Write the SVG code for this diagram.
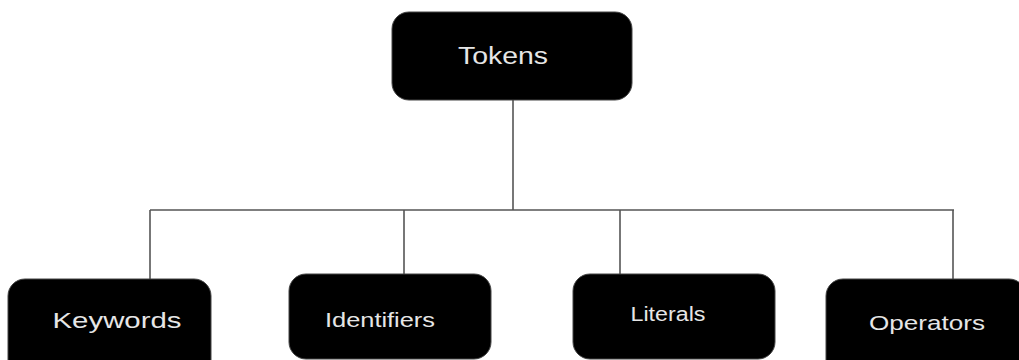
<svg xmlns="http://www.w3.org/2000/svg" width="1019" height="360" viewBox="0 0 1019 360">
<style>
.box{fill:#000;stroke:#444;stroke-width:1}
.lbl{fill:#e6e6e6;font-family:"Liberation Sans",Arial,sans-serif;text-anchor:middle}
.conn{stroke:#555;stroke-width:1.6;fill:none}
</style>
<rect width="1019" height="360" fill="#fff"/>
<g id="connectors">
<path class="conn" d="M513,100 V210"/>
<path class="conn" d="M150,210 H954"/>
<path class="conn" d="M150,210 V279"/>
<path class="conn" d="M404,210 V274"/>
<path class="conn" d="M620,210 V274"/>
<path class="conn" d="M953,210 V279"/>
</g>
<g id="tokens">
<rect class="box" x="392" y="12" width="240" height="88" rx="17"/>
<text class="lbl" x="503" y="64" font-size="23" textLength="90" lengthAdjust="spacingAndGlyphs">Tokens</text>
</g>
<g id="keywords">
<rect class="box" x="8" y="279" width="203" height="100" rx="17"/>
<text class="lbl" x="117" y="328" font-size="22" textLength="129" lengthAdjust="spacingAndGlyphs">Keywords</text>
</g>
<g id="identifiers">
<rect class="box" x="289" y="274" width="202" height="85" rx="17"/>
<text class="lbl" x="380" y="327" font-size="20" textLength="110" lengthAdjust="spacingAndGlyphs">Identifiers</text>
</g>
<g id="literals">
<rect class="box" x="573" y="274" width="202" height="85" rx="17"/>
<text class="lbl" x="668" y="321" font-size="20" textLength="75" lengthAdjust="spacingAndGlyphs">Literals</text>
</g>
<g id="operators">
<rect class="box" x="826" y="279" width="200" height="100" rx="17"/>
<text class="lbl" x="927" y="330" font-size="21" textLength="116" lengthAdjust="spacingAndGlyphs">Operators</text>
</g>
</svg>
